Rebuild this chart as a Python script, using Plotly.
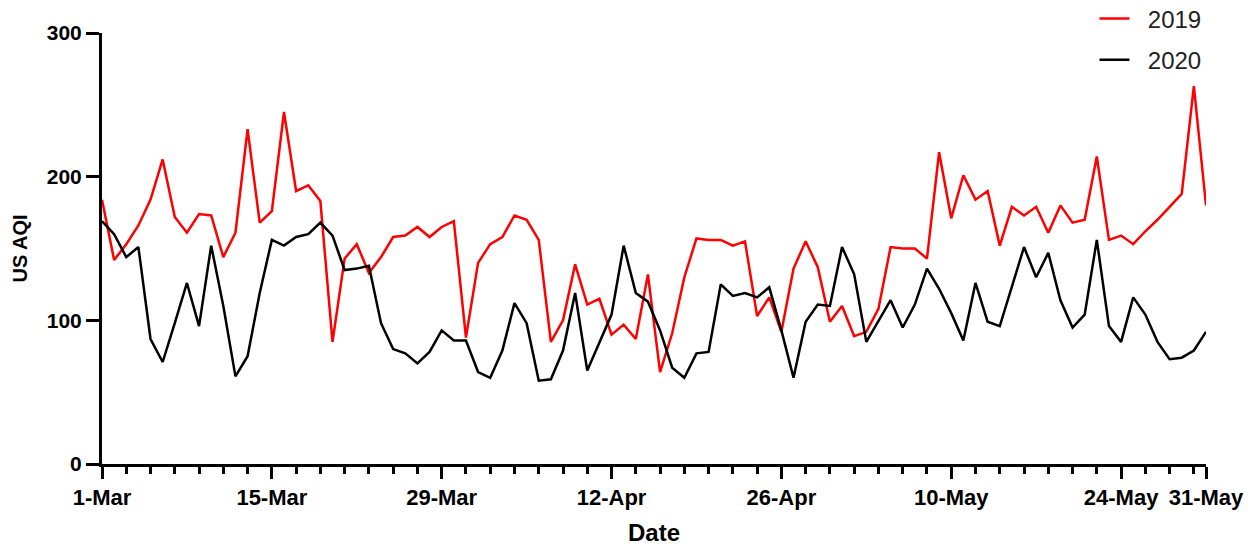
import pandas as pd
import plotly.graph_objects as go

dates = pd.date_range("2020-03-01", "2020-05-31", freq="D")

aqi_2019 = [184, 142, 153, 166, 184, 212, 172, 161, 174, 173, 144, 161, 233, 168, 176, 245,
            190, 194, 183, 85, 143, 153, 133, 144, 158, 159, 165, 158, 165, 169, 88, 140,
            153, 158, 173, 170, 156, 85, 100, 139, 111, 115, 90, 97, 87, 132, 64, 91,
            130, 157, 156, 156, 152, 155, 103, 116, 92, 136, 155, 137, 99, 110, 89, 92,
            108, 151, 150, 150, 143, 217, 171, 201, 184, 190, 152, 179, 173, 179, 161, 180,
            168, 170, 214, 156, 159, 153, 162, 170, 179, 188, 263, 180]

aqi_2020 = [169, 160, 144, 151, 87, 71, 98, 126, 96, 152, 110, 61, 75, 119, 156, 152,
            158, 160, 168, 159, 135, 136, 138, 98, 80, 77, 70, 78, 93, 86, 86, 64,
            60, 79, 112, 98, 58, 59, 79, 119, 65, 84, 104, 152, 119, 113, 93, 67,
            60, 77, 78, 125, 117, 119, 116, 123, 93, 60, 99, 111, 110, 151, 132, 85,
            99, 114, 95, 111, 136, 122, 105, 86, 126, 99, 96, 123, 151, 130, 147, 114,
            95, 104, 156, 96, 85, 116, 104, 85, 73, 74, 79, 92]

series_names = ["2019", "2020"]

tick_vals = ["2020-03-01", "2020-03-15", "2020-03-29", "2020-04-12", "2020-04-26",
             "2020-05-10", "2020-05-24", "2020-05-31"]
tick_text = ["1-Mar", "15-Mar", "29-Mar", "12-Apr", "26-Apr", "10-May", "24-May", "31-May"]

FONT = "Liberation Sans, Arial, sans-serif"
PAD = "\u00a0\u00a0"

fig = go.Figure()
fig.add_trace(go.Scatter(x=dates, y=aqi_2019, mode="lines", name=PAD + series_names[0],
                         line=dict(color="#FF0000", width=2.5), legendgroup="a"))
fig.add_trace(go.Scatter(x=dates, y=aqi_2020, mode="lines", name=PAD + series_names[1],
                         line=dict(color="#000000", width=2.5), legendgroup="b"))

fig.update_layout(
    width=1254, height=546,
    margin=dict(l=102, r=48, t=33, b=82, autoexpand=False),
    paper_bgcolor="white", plot_bgcolor="white",
    font=dict(family=FONT, color="black"),
    showlegend=True,
    legend=dict(x=0.899, y=1.085, xanchor="left", yanchor="top",
                font=dict(size=24, color="#222222", family=FONT),
                bgcolor="rgba(0,0,0,0)", tracegroupgap=7, itemwidth=30),
    xaxis=dict(
        type="date",
        range=["2020-03-01", "2020-05-31"],
        tickmode="array", tickvals=tick_vals, ticktext=tick_text,
        ticks="outside", ticklen=12, tickwidth=3, tickcolor="black",
        showline=True, linecolor="black", linewidth=3,
        showgrid=False, zeroline=False,
        tickfont=dict(size=22, family=FONT, color="black", weight="bold"),
        title=dict(text="<b>Date</b>", font=dict(size=24, family=FONT, color="black"), standoff=16),
        minor=dict(ticks="outside", ticklen=7, tickwidth=3, tickcolor="black",
                   dtick=2 * 86400000, tick0="2020-03-01", showgrid=False),
    ),
    yaxis=dict(
        range=[0, 300],
        tickvals=[0, 100, 200, 300],
        ticks="outside", ticklen=13, tickwidth=3, tickcolor="black",
        showline=True, linecolor="black", linewidth=3,
        showgrid=False, zeroline=False,
        tickfont=dict(size=21, family=FONT, color="black", weight="bold"),
        title=dict(text="<b>US AQI</b>", font=dict(size=20, family=FONT, color="black"), standoff=14),
    ),
)

fig.write_html("out.html", config={"displayModeBar": False},
               post_script="document.body.style.margin='0';")
